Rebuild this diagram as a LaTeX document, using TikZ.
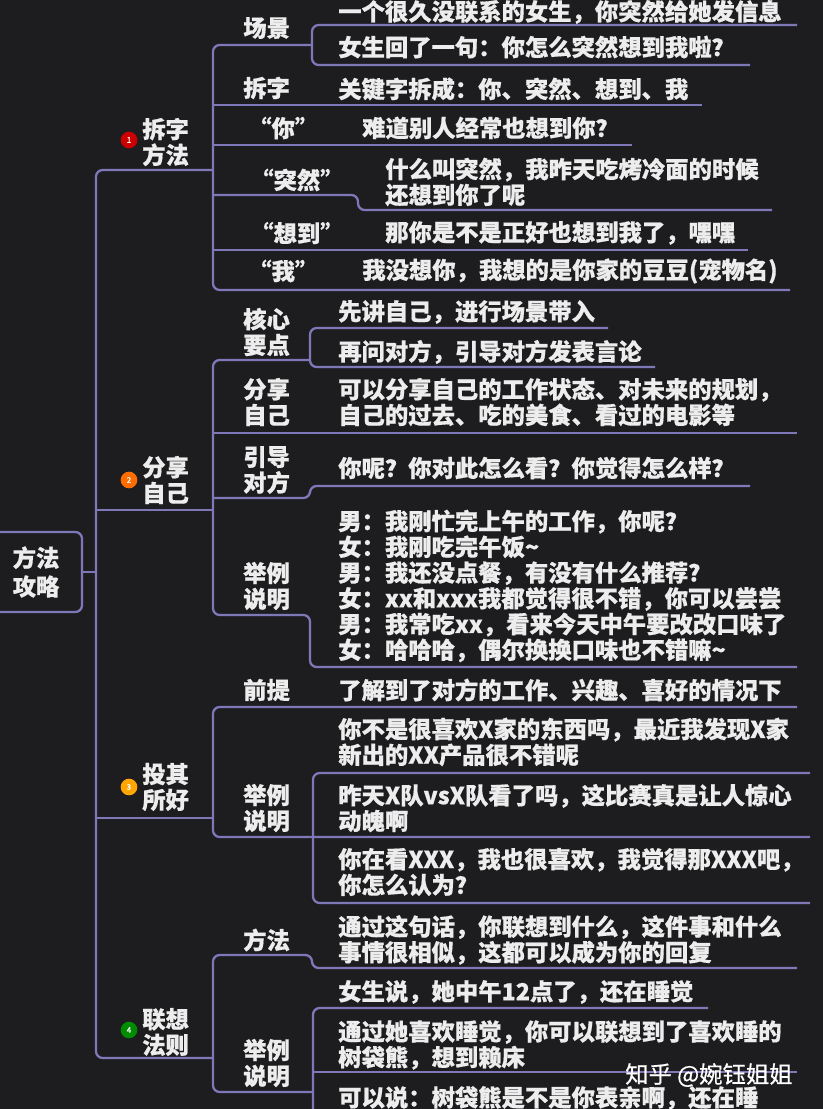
\documentclass[tikz,border=0pt]{standalone}
\usepackage{fontspec}
\setmainfont{Noto Sans CJK SC}[FakeBold=0.6]
\definecolor{fondo}{HTML}{1D1D20}
\definecolor{linea}{HTML}{7E77B8}
\definecolor{letra}{HTML}{EDEDED}
\tikzset{
	texto/.style={anchor=west, inner sep=0pt, text=letra, align=left, font=\fontsize{17.5}{19.3}\selectfont\bfseries},
	rama/.style={draw=linea, line width=1.7pt, rounded corners=5pt},
	punto/.style={circle, inner sep=0pt, minimum size=12.5pt, text=white, font=\fontsize{6}{6}\selectfont},
	caja/.style={draw=linea, line width=1.7pt, rounded corners=5pt, minimum width=69pt, minimum height=60pt, align=center, text=letra, font=\fontsize{17.5}{21.5}\selectfont\bfseries}
}
\begin{document}
\begin{tikzpicture}[x=0.75pt,y=-0.75pt]
	\useasboundingbox (0,0) rectangle (823,1109);
	\fill[fondo] (0,0) rectangle (823,1109);
	\clip (0,0) rectangle (823,1109);
	% Raíz
		\node[caja] (raiz) at (36,572) {方法\\攻略};
		\draw[rama] (raiz.east) -- (96,572);
		\draw[rama] (213,170) -- (96,170) -- (96,1058) -- (213,1058);
		\draw[rama] (96,510) -- (213,510);
		\draw[rama] (96,818) -- (213,818);
	% Rama 1: 拆字方法
		\node[punto, fill=red!80!black] (p1) at (129,140) {1};
		\node[texto] (b1) at (142,142) {拆字\\方法};
		% Líneas
			\draw[rama] (312,45) -- (213,45) -- (213,290) -- (790,290);
			\draw[rama] (797,25) -- (312,25) -- (312,65) -- (750,65);
			\draw[rama] (213,105) -- (702,105);
			\draw[rama] (213,145) -- (632,145);
			\draw[rama] (213,195) -- (358,195) -- (358,210) -- (772,210);
			\draw[rama] (213,250) -- (748,250);
		% Textos
			\node[texto] (l11) at (243,28) {场景};
			\node[texto] (t111) at (338,12) {一个很久没联系的女生，你突然给她发信息};
			\node[texto] (t112) at (338,47) {女生回了一句：你怎么突然想到我啦？};
			\node[texto] (l12) at (243,88) {拆字};
			\node[texto] (t12) at (338,89) {关键字拆成：你、突然、想到、我};
			\node[texto] (l13) at (248,128) {“你”};
			\node[texto] (t13) at (362,128) {难道别人经常也想到你？};
			\node[texto] (l14) at (250,180) {“突然”};
			\node[texto] (t14) at (385,182) {什么叫突然，我昨天吃烤冷面的时候\\还想到你了呢};
			\node[texto] (l15) at (250,233) {“想到”};
			\node[texto] (t15) at (385,233) {那你是不是正好也想到我了，嘿嘿};
			\node[texto] (l16) at (248,271) {“我”};
			\node[texto] (t16) at (362,271) {我没想你，我想的是你家的豆豆(宠物名)};
	% Rama 2: 分享自己
		\node[punto, fill=orange!85!red] (p2) at (129,480) {2};
		\node[texto] (b2) at (142,480) {分享\\自己};
		% Líneas
			\draw[rama] (310,360) -- (213,360) -- (213,615) -- (310,615) -- (310,667) -- (797,667);
			\draw[rama] (608,328) -- (310,328) -- (310,367) -- (655,367);
			\draw[rama] (213,433) -- (797,433);
			\draw[rama] (213,498) -- (310,498) -- (310,486) -- (750,486);
		% Textos
			\node[texto] (l21) at (243,332) {核心\\要点};
			\node[texto] (t211) at (338,312) {先讲自己，进行场景带入};
			\node[texto] (t212) at (338,352) {再问对方，引导对方发表言论};
			\node[texto] (l22) at (243,402) {分享\\自己};
			\node[texto] (t22) at (338,402) {可以分享自己的工作状态、对未来的规划，\\自己的过去、吃的美食、看过的电影等};
			\node[texto] (l23) at (243,470) {引导\\对方};
			\node[texto] (t23) at (338,468) {你呢？你对此怎么看？你觉得怎么样？};
			\node[texto] (l24) at (243,586) {举例\\说明};
			\node[texto] (t24) at (338,586) {男：我刚忙完上午的工作，你呢？\\女：我刚吃完午饭\textasciitilde\\男：我还没点餐，有没有什么推荐？\\女：xx和xxx我都觉得很不错，你可以尝尝\\男：我常吃xx，看来今天中午要改改口味了\\女：哈哈哈，偶尔换换口味也不错嘛\textasciitilde};
	% Rama 3: 投其所好
		\node[punto, fill=orange!70!yellow] (p3) at (129,787) {3};
		\node[texto] (b3) at (142,787) {投其\\所好};
		% Líneas
			\draw[rama] (797,707) -- (213,707) -- (213,837) -- (810,837);
			\draw[rama] (810,773) -- (313,773) -- (313,903) -- (810,903);
		% Textos
			\node[texto] (l31) at (243,690) {前提};
			\node[texto] (t31) at (338,690) {了解到了对方的工作、兴趣、喜好的情况下};
			\node[texto] (l32) at (243,808) {举例\\说明};
			\node[texto] (t321) at (338,742) {你不是很喜欢X家的东西吗，最近我发现X家\\新出的XX产品很不错呢};
			\node[texto] (t322) at (338,808) {昨天X队vsX队看了吗，这比赛真是让人惊心\\动魄啊};
			\node[texto] (t323) at (338,872) {你在看XXX，我也很喜欢，我觉得那XXX吧，\\你怎么认为？};
	% Rama 4: 联想法则
		\node[punto, fill=green!55!black] (p4) at (129,1030) {4};
		\node[texto] (b4) at (142,1032) {联想\\法则};
		% Líneas
			\draw[rama] (797,968) -- (312,968) -- (312,955) -- (213,955) -- (213,1092) -- (313,1092);
			\draw[rama] (708,1008) -- (313,1008) -- (313,1120);
			\draw[rama] (313,1072) -- (797,1072);
		% Textos
			\node[texto] (l41) at (243,940) {方法};
			\node[texto] (t41) at (338,940) {通过这句话，你联想到什么，这件事和什么\\事情很相似，这都可以成为你的回复};
			\node[texto] (l42) at (243,1063) {举例\\说明};
			\node[texto] (t421) at (338,992) {女生说，她中午12点了，还在睡觉};
			\node[texto] (t422) at (338,1045) {通过她喜欢睡觉，你可以联想到了喜欢睡的\\树袋熊，想到赖床};
			\node[texto] (t423) at (338,1098) {可以说：树袋熊是不是你表亲啊，还在睡};
	% Marca
		\node[texto, text=white, font=\fontsize{17.5}{20}\selectfont] (marca) at (625,1075) {知乎 @婉钰姐姐};
\end{tikzpicture}
\end{document}
